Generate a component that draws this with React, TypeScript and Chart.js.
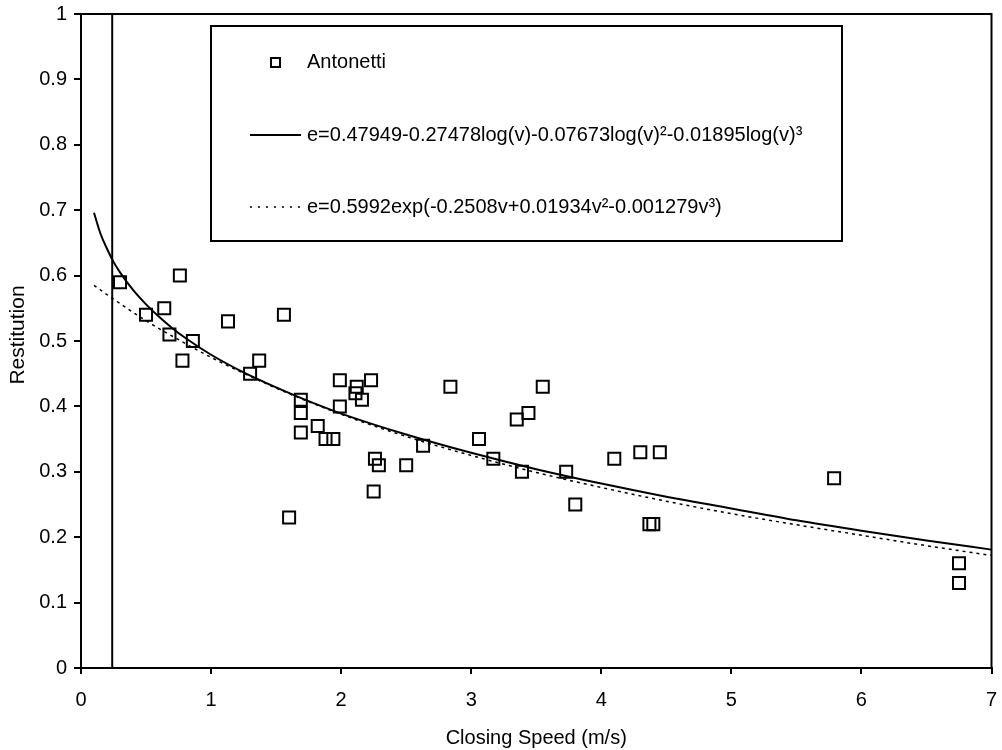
import React, { useEffect, useRef } from 'react';
import { Chart, registerables } from 'chart.js';

Chart.register(...registerables);

// Measured points (Antonetti)
const speeds = [
  0.30, 0.50, 0.64, 0.68, 0.76, 0.78, 0.86, 1.13, 1.30, 1.37, 1.56, 1.60,
  1.69, 1.69, 1.69, 1.82, 1.88, 1.94, 1.99, 1.99, 2.11, 2.12, 2.16, 2.23,
  2.25, 2.26, 2.29, 2.50, 2.63, 2.84, 3.06, 3.17, 3.35, 3.39, 3.44, 3.55,
  3.73, 3.80, 4.10, 4.30, 4.37, 4.40, 4.45, 5.79, 6.75, 6.75,
];
const restitution = [
  0.59, 0.54, 0.55, 0.51, 0.60, 0.47, 0.50, 0.53, 0.45, 0.47, 0.54, 0.23,
  0.41, 0.39, 0.36, 0.37, 0.35, 0.35, 0.44, 0.40, 0.42, 0.43, 0.41, 0.44,
  0.27, 0.32, 0.31, 0.31, 0.34, 0.43, 0.35, 0.32, 0.38, 0.30, 0.39, 0.43,
  0.30, 0.25, 0.32, 0.33, 0.22, 0.22, 0.33, 0.29, 0.16, 0.13,
];

// Solid fitted curve (log form)
const logFitV = [0.1, 0.15, 0.2, 0.25, 0.3, 0.4, 0.5, 0.6, 0.7, 0.8, 1.0, 1.25, 1.5, 1.75, 2.0, 2.5, 3.0, 3.5, 4.0, 4.5, 5.0, 5.5, 6.0, 6.5, 7.0];
const logFitE = [0.696, 0.664, 0.641, 0.621, 0.605, 0.578, 0.556, 0.537, 0.520, 0.505, 0.479, 0.452, 0.429, 0.408, 0.389, 0.357, 0.329, 0.304, 0.282, 0.262, 0.244, 0.226, 0.210, 0.195, 0.181];

// Dotted fitted curve (exp form)
const expFitV = [0.1, 0.25, 0.5, 0.75, 1.0, 1.5, 2.0, 2.5, 3.0, 3.5, 4.0, 4.5, 5.0, 5.5, 6.0, 6.5, 7.0];
const expFitE = [0.585, 0.564, 0.531, 0.502, 0.475, 0.428, 0.388, 0.354, 0.325, 0.299, 0.276, 0.255, 0.236, 0.219, 0.203, 0.187, 0.172];

// Vertical reference line
const markerV = [0.24, 0.24];
const markerE = [0, 1];

const seriesLabels = [
  'Antonetti',
  'e=0.47949-0.27478log(v)-0.07673log(v)²-0.01895log(v)³',
  'e=0.5992exp(-0.2508v+0.01934v²-0.001279v³)',
];
const xTitle = 'Closing Speed (m/s)';
const yTitle = 'Restitution';

const FONT = '"Liberation Sans", Arial, sans-serif';
const FS = 20;

const decorPlugin = {
  id: 'decor',
  afterDatasetsDraw(chart: any) {
    const { ctx, chartArea: a } = chart;
    ctx.save();
    ctx.strokeStyle = '#000';
    ctx.lineWidth = 2;
    ctx.setLineDash([]);
    // top & right frame
    ctx.beginPath();
    ctx.moveTo(a.left, a.top);
    ctx.lineTo(a.right, a.top);
    ctx.lineTo(a.right, a.bottom);
    ctx.stroke();

    // legend box
    const bx = 211, by = 26, bw = 631, bh = 215;
    ctx.fillStyle = '#fff';
    ctx.fillRect(bx, by, bw, bh);
    ctx.strokeRect(bx, by, bw, bh);

    const rows = [62, 135, 207];
    const textX = 307;
    ctx.fillStyle = '#000';
    ctx.font = `${FS}px ${FONT}`;
    ctx.textBaseline = 'middle';
    ctx.textAlign = 'left';

    // marker
    ctx.lineWidth = 2;
    ctx.strokeRect(271, rows[0] - 4, 9, 9);
    ctx.fillText(seriesLabels[0], textX, rows[0]);

    // solid
    ctx.beginPath();
    ctx.moveTo(250, rows[1]);
    ctx.lineTo(301, rows[1]);
    ctx.stroke();
    ctx.fillText(seriesLabels[1], textX, rows[1]);

    // dotted
    ctx.lineWidth = 1.5;
    ctx.setLineDash([2, 6]);
    ctx.beginPath();
    ctx.moveTo(250, rows[2]);
    ctx.lineTo(303, rows[2]);
    ctx.stroke();
    ctx.setLineDash([]);
    ctx.fillText(seriesLabels[2], textX, rows[2]);

    // y-axis title
    ctx.save();
    ctx.translate(18, 335);
    ctx.rotate(-Math.PI / 2);
    ctx.textAlign = 'center';
    ctx.textBaseline = 'middle';
    ctx.font = `21px ${FONT}`;
    ctx.fillText(yTitle, 0, 0);
    ctx.restore();

    ctx.restore();
  },
};

export default function App() {
  const ref = useRef<HTMLCanvasElement | null>(null);

  useEffect(() => {
    if (!ref.current) return;
    const pts = speeds.map((v, i) => ({ x: v, y: restitution[i] }));
    const logPts = logFitV.map((v, i) => ({ x: v, y: logFitE[i] }));
    const expPts = expFitV.map((v, i) => ({ x: v, y: expFitE[i] }));
    const mPts = markerV.map((v, i) => ({ x: v, y: markerE[i] }));

    const tickFont = { family: FONT, size: FS };

    const chart = new Chart(ref.current, {
      type: 'scatter',
      data: {
        datasets: [
          {
            label: 'marker',
            data: mPts,
            showLine: true,
            borderColor: '#000',
            borderWidth: 2,
            pointRadius: 0,
            fill: false,
          },
          {
            label: seriesLabels[2],
            data: expPts,
            showLine: true,
            borderColor: '#000',
            borderWidth: 1.5,
            borderDash: [3, 4],
            pointRadius: 0,
            cubicInterpolationMode: 'monotone',
            fill: false,
          },
          {
            label: seriesLabels[1],
            data: logPts,
            showLine: true,
            borderColor: '#000',
            borderWidth: 2,
            pointRadius: 0,
            cubicInterpolationMode: 'monotone',
            fill: false,
          },
          {
            label: seriesLabels[0],
            data: pts,
            showLine: false,
            pointStyle: 'rect',
            pointRadius: 8.5,
            pointBorderWidth: 2,
            pointBorderColor: '#000',
            pointBackgroundColor: 'rgba(0,0,0,0)',
          },
        ],
      } as any,
      options: {
        animation: false,
        responsive: false,
        devicePixelRatio: 1,
        layout: { padding: { left: 0, top: 14, right: 9, bottom: 0 } },
        plugins: {
          legend: { display: false },
          tooltip: { enabled: false },
        },
        scales: {
          x: {
            type: 'linear',
            min: 0,
            max: 7,
            ticks: {
              stepSize: 1,
              color: '#000',
              font: tickFont,
              padding: 14,
              callback: (v: any) => String(Math.round(Number(v))),
            },
            grid: {
              display: true,
              drawOnChartArea: false,
              drawTicks: true,
              tickLength: 6,
              lineWidth: 2,
              color: '#000',
            },
            border: { display: true, width: 2, color: '#000' },
            title: {
              display: true,
              text: xTitle,
              color: '#000',
              font: tickFont,
              padding: { top: 0, bottom: 0 },
            },
            afterFit: (s: any) => {
              s.height = 82;
              s.paddingLeft = 0;
              s.paddingRight = 0;
            },
          },
          y: {
            type: 'linear',
            min: 0,
            max: 1,
            ticks: {
              stepSize: 0.1,
              color: '#000',
              font: tickFont,
              padding: 7,
              callback: (v: any) => String(Number(Number(v).toFixed(1))),
            },
            grid: {
              display: true,
              drawOnChartArea: false,
              drawTicks: true,
              tickLength: 7,
              lineWidth: 2,
              color: '#000',
            },
            border: { display: true, width: 2, color: '#000' },
            title: { display: false },
            afterFit: (s: any) => {
              s.width = 81;
              s.paddingTop = 0;
              s.paddingBottom = 0;
            },
          },
        },
      } as any,
      plugins: [decorPlugin],
    });
    return () => chart.destroy();
  }, []);

  return (
    <div style={{ position: 'absolute', left: 0, top: 0, width: 1002, height: 750, background: '#fff' }}>
      <canvas ref={ref} width={1002} height={750} style={{ display: 'block' }} />
    </div>
  );
}
